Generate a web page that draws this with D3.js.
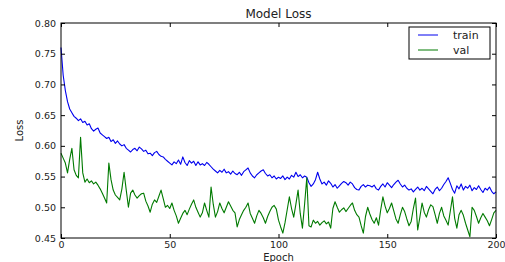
<!DOCTYPE html>
<html>
<head>
<meta charset="utf-8">
<script src="https://cdn.jsdelivr.net/npm/d3@7"></script>
<style>
  body { margin: 0; background: #fff; }
  text { font-family: "DejaVu Sans", sans-serif; fill: #222; }
</style>
</head>
<body>
<div id="chart"></div>
<script>
const train = [
  0.760, 0.715, 0.690, 0.672, 0.660, 0.654, 0.648, 0.645, 0.641, 0.644,
  0.638, 0.640, 0.634, 0.636, 0.628, 0.624, 0.627, 0.629, 0.621, 0.618,
  0.615, 0.612, 0.614, 0.607, 0.610, 0.604, 0.608, 0.603, 0.600, 0.602,
  0.596, 0.593, 0.590, 0.594, 0.596, 0.592, 0.598, 0.595, 0.591, 0.593,
  0.587, 0.588, 0.584, 0.589, 0.591, 0.586, 0.583, 0.582, 0.578, 0.575,
  0.572, 0.569, 0.574, 0.571, 0.577, 0.570, 0.582, 0.573, 0.568, 0.576,
  0.572, 0.575, 0.568, 0.574, 0.569, 0.571, 0.568, 0.573, 0.570, 0.566,
  0.562, 0.559, 0.556, 0.560, 0.557, 0.562, 0.556, 0.558, 0.554, 0.559,
  0.555, 0.553, 0.557, 0.552, 0.558, 0.561, 0.564, 0.556, 0.551, 0.548,
  0.553, 0.556, 0.559, 0.561, 0.555, 0.551, 0.553, 0.548, 0.551, 0.546,
  0.549, 0.547, 0.551, 0.545, 0.549, 0.546, 0.552, 0.549, 0.557, 0.550,
  0.553, 0.548, 0.551, 0.549, 0.540, 0.534, 0.538, 0.545, 0.557, 0.546,
  0.538, 0.541, 0.536, 0.543, 0.539, 0.533, 0.537, 0.531, 0.535, 0.539,
  0.542, 0.540, 0.536, 0.541, 0.538, 0.532, 0.529, 0.528, 0.534, 0.537,
  0.533, 0.536, 0.535, 0.533, 0.536, 0.530, 0.528, 0.534, 0.538, 0.533,
  0.540, 0.536, 0.532, 0.537, 0.541, 0.544, 0.538, 0.533, 0.536, 0.531,
  0.528, 0.530, 0.525, 0.529, 0.533, 0.528, 0.531, 0.527, 0.534, 0.530,
  0.526, 0.522, 0.529, 0.533, 0.527, 0.531, 0.537, 0.542, 0.548, 0.539,
  0.529, 0.523, 0.535, 0.530, 0.538, 0.528, 0.534, 0.531, 0.536, 0.527,
  0.532, 0.529, 0.535, 0.529, 0.524, 0.531, 0.528, 0.533, 0.526, 0.522,
  0.525
];

const val = [
  0.588, 0.580, 0.572, 0.556, 0.578, 0.596, 0.561, 0.552, 0.548, 0.614,
  0.556, 0.541, 0.546, 0.540, 0.543, 0.538, 0.541, 0.536, 0.530, 0.523,
  0.515, 0.507, 0.572, 0.545, 0.528, 0.520, 0.516, 0.512, 0.530, 0.557,
  0.528, 0.500, 0.523, 0.528, 0.520, 0.515, 0.519, 0.522, 0.523, 0.510,
  0.502, 0.492, 0.505, 0.512, 0.508, 0.518, 0.528, 0.514, 0.500, 0.503,
  0.498, 0.507, 0.495, 0.486, 0.474, 0.482, 0.490, 0.495, 0.488, 0.497,
  0.505, 0.512, 0.500, 0.492, 0.484, 0.491, 0.507, 0.495, 0.484, 0.533,
  0.505, 0.484, 0.493, 0.507, 0.498, 0.491, 0.500, 0.509, 0.502, 0.495,
  0.491, 0.468, 0.480, 0.488, 0.495, 0.500, 0.507, 0.490, 0.482, 0.474,
  0.486, 0.495, 0.490, 0.483, 0.474, 0.485, 0.493, 0.500, 0.503, 0.497,
  0.479, 0.468, 0.458, 0.475, 0.496, 0.517, 0.498, 0.484, 0.505, 0.528,
  0.490, 0.466, 0.505, 0.548, 0.470, 0.468, 0.479, 0.474, 0.477, 0.471,
  0.475, 0.478, 0.473, 0.476, 0.466, 0.498, 0.509, 0.500, 0.492, 0.496,
  0.499, 0.493, 0.498, 0.503, 0.507, 0.495, 0.488, 0.484, 0.470, 0.458,
  0.485, 0.500, 0.489, 0.480, 0.474, 0.483, 0.471, 0.496, 0.517, 0.502,
  0.491, 0.498, 0.507, 0.494, 0.481, 0.474, 0.488, 0.500, 0.493, 0.481,
  0.470, 0.477, 0.498, 0.515, 0.463, 0.484, 0.507, 0.492, 0.484, 0.496,
  0.504, 0.501, 0.488, 0.474, 0.490, 0.500, 0.486, 0.479, 0.471, 0.494,
  0.517, 0.482, 0.466, 0.488, 0.495, 0.487, 0.474, 0.463, 0.452, 0.500,
  0.495, 0.485, 0.474, 0.483, 0.490, 0.484, 0.478, 0.470, 0.480, 0.491,
  0.495
];

const xTicks = [0, 50, 100, 150, 200];
const yTicks = [0.45, 0.50, 0.55, 0.60, 0.65, 0.70, 0.75, 0.80];
const seriesNames = ["train", "val"];
const colors = ["#0000ee", "#007a00"];

const width = 505;
const height = 262;
const margin = { top: 23, right: 9, bottom: 24, left: 61 };

const svg = d3.select("#chart")
  .append("svg")
  .attr("width", width)
  .attr("height", height);

const x = d3.scaleLinear()
  .domain([0, 200])
  .range([margin.left, width - margin.right]);

const y = d3.scaleLinear()
  .domain([0.45, 0.80])
  .range([height - margin.bottom, margin.top]);

// lines
const line = d3.line()
  .x((d, i) => x(i))
  .y(d => y(d));

[train, val].forEach((s, k) => {
  svg.append("path")
    .datum(s)
    .attr("fill", "none")
    .attr("stroke", colors[k])
    .attr("stroke-width", 1.1)
    .attr("stroke-linejoin", "round")
    .attr("d", line);
});

// axes, ticks pointing inward on all four sides
const tickFmt = d3.format(".2f");
const axB = svg.append("g")
  .attr("transform", `translate(0,${height - margin.bottom})`)
  .call(d3.axisBottom(x).tickValues(xTicks).tickSizeInner(-4).tickSizeOuter(0).tickPadding(3));
const axT = svg.append("g")
  .attr("transform", `translate(0,${margin.top})`)
  .call(d3.axisTop(x).tickValues(xTicks).tickSizeInner(-4).tickSizeOuter(0).tickFormat(""));
const axL = svg.append("g")
  .attr("transform", `translate(${margin.left},0)`)
  .call(d3.axisLeft(y).tickValues(yTicks).tickFormat(tickFmt).tickSizeInner(-4).tickSizeOuter(0).tickPadding(5));
const axR = svg.append("g")
  .attr("transform", `translate(${width - margin.right},0)`)
  .call(d3.axisRight(y).tickValues(yTicks).tickSizeInner(-4).tickSizeOuter(0).tickFormat(""));

[axB, axT, axL, axR].forEach(g => {
  g.select(".domain").remove();
  g.selectAll("line").attr("stroke", "#000");
  g.selectAll("text").style("font-size", "9.5px").attr("fill", "#222");
});

// frame
svg.append("rect")
  .attr("x", margin.left)
  .attr("y", margin.top)
  .attr("width", width - margin.left - margin.right)
  .attr("height", height - margin.top - margin.bottom)
  .attr("fill", "none")
  .attr("stroke", "#000")
  .attr("stroke-width", 1);

// title and labels
svg.append("text")
  .attr("x", (margin.left + width - margin.right) / 2)
  .attr("y", 18)
  .attr("text-anchor", "middle")
  .style("font-size", "12px")
  .text("Model Loss");

svg.append("text")
  .attr("x", (margin.left + width - margin.right) / 2)
  .attr("y", 261)
  .attr("text-anchor", "middle")
  .style("font-size", "10px")
  .text("Epoch");

svg.append("text")
  .attr("transform", `translate(23,${(margin.top + height - margin.bottom) / 2}) rotate(-90)`)
  .attr("text-anchor", "middle")
  .style("font-size", "10px")
  .text("Loss");

// legend
const lg = svg.append("g").attr("transform", "translate(409,27)");
lg.append("rect")
  .attr("width", 81)
  .attr("height", 32)
  .attr("fill", "#fff")
  .attr("stroke", "#000");
seriesNames.forEach((n, i) => {
  lg.append("line")
    .attr("x1", 9).attr("x2", 29)
    .attr("y1", 8 + i * 15).attr("y2", 8 + i * 15)
    .attr("stroke", colors[i])
    .attr("stroke-width", 1);
  lg.append("text")
    .attr("x", 44)
    .attr("y", 12 + i * 15)
    .style("font-size", "11px")
    .text(n);
});
</script>
</body>
</html>
